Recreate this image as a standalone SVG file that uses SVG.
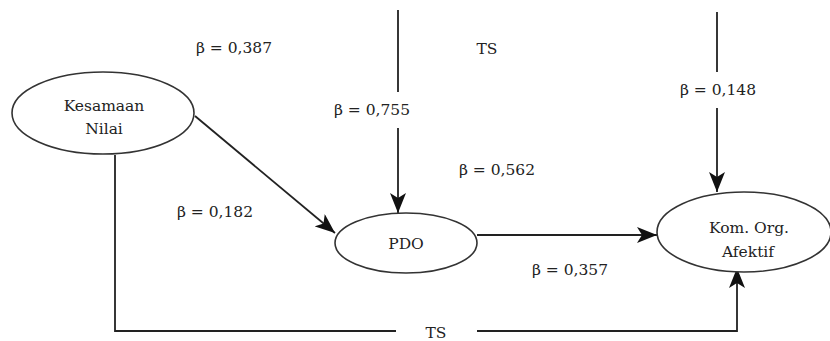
<svg xmlns="http://www.w3.org/2000/svg" width="830" height="341" viewBox="0 0 830 341">
<style>
.n{fill:#fff;stroke:#333;stroke-width:1.6}
.c{fill:none;stroke:#222;stroke-width:1.8}
text{font-family:'DejaVu Serif','Liberation Serif',serif;font-size:15.5px;fill:#222;text-anchor:middle}
</style>
<defs>
<marker id="ah" viewBox="0 0 20 16" refX="20" refY="8" markerWidth="20" markerHeight="16" markerUnits="userSpaceOnUse" orient="auto">
<path d="M0,0 L20,8 L0,16 L5,8 Z" fill="#111"/>
</marker>
</defs>
<g id="connectors">
<path class="c" d="M398,10 V92 M398,128 V213" marker-end="url(#ah)"/>
<path class="c" d="M717,12 V72 M717,108 V192" marker-end="url(#ah)"/>
<path class="c" d="M195,116 L335,233" marker-end="url(#ah)"/>
<path class="c" d="M477,235 H657" marker-end="url(#ah)"/>
<path class="c" d="M115,155 V331 H396 M477,331 H737 V268" marker-end="url(#ah)"/>
</g>
<g id="kesamaan">
<ellipse class="n" cx="103" cy="113" rx="91" ry="41"/>
<text x="104" y="111">Kesamaan</text>
<text x="104" y="134">Nilai</text>
</g>
<g id="pdo">
<ellipse class="n" cx="406" cy="243" rx="71" ry="30"/>
<text x="406" y="249">PDO</text>
</g>
<g id="kom">
<ellipse class="n" cx="744" cy="232" rx="87" ry="40"/>
<text x="749" y="233">Kom. Org.</text>
<text x="748" y="257">Afektif</text>
</g>
<g id="labels">
<text x="234" y="53">β = 0,387</text>
<text x="487" y="54">TS</text>
<text x="372" y="115">β = 0,755</text>
<text x="718" y="95">β = 0,148</text>
<text x="497" y="175">β = 0,562</text>
<text x="215" y="217">β = 0,182</text>
<text x="570" y="275">β = 0,357</text>
<text x="436" y="338">TS</text>
</g>
</svg>
